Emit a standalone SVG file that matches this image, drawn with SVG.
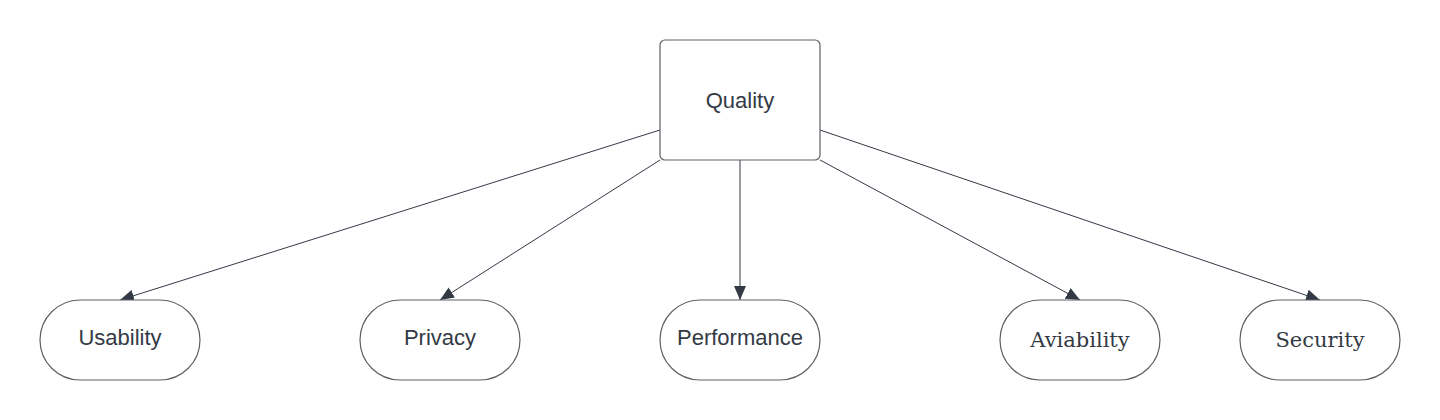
<svg xmlns="http://www.w3.org/2000/svg" width="1440" height="420" viewBox="0 0 1440 420">
<style>
.node{fill:#ffffff;stroke:#5e6066;stroke-width:1.2}
.sans{font-family:"Liberation Sans",Arial,sans-serif;font-size:22px;fill:#333a45}
.serif{font-family:"DejaVu Serif",serif;font-size:21px;fill:#333a45}
.edge{stroke:#333a45;stroke-width:1;fill:none}
</style>
<defs>
<marker id="arr" viewBox="0 0 14 12" refX="14" refY="6" markerWidth="14" markerHeight="12" markerUnits="userSpaceOnUse" orient="auto">
<path d="M0,0 L14,6 L0,12 Z" fill="#333a45"/>
</marker>
</defs>
<rect width="1440" height="420" fill="#ffffff"/>
<g id="connectors">
<line class="edge" x1="660" y1="130" x2="120" y2="300" marker-end="url(#arr)"/>
<line class="edge" x1="660" y1="160" x2="440" y2="300" marker-end="url(#arr)"/>
<line class="edge" x1="740" y1="160" x2="740" y2="300" marker-end="url(#arr)"/>
<line class="edge" x1="820" y1="160" x2="1080" y2="300" marker-end="url(#arr)"/>
<line class="edge" x1="820" y1="130" x2="1320" y2="300" marker-end="url(#arr)"/>
</g>
<g id="quality">
<rect class="node" x="660" y="40" width="160" height="120" rx="5"/>
<text class="sans" x="740" y="108" text-anchor="middle">Quality</text>
</g>
<g id="usability">
<rect class="node" x="40" y="300" width="160" height="80" rx="40"/>
<text class="sans" x="120" y="345" text-anchor="middle">Usability</text>
</g>
<g id="privacy">
<rect class="node" x="360" y="300" width="160" height="80" rx="40"/>
<text class="sans" x="440" y="345" text-anchor="middle">Privacy</text>
</g>
<g id="performance">
<rect class="node" x="660" y="300" width="160" height="80" rx="40"/>
<text class="sans" x="740" y="345" text-anchor="middle">Performance</text>
</g>
<g id="aviability">
<rect class="node" x="1000" y="300" width="160" height="80" rx="40"/>
<text class="serif" x="1080" y="347" text-anchor="middle">Aviability</text>
</g>
<g id="security">
<rect class="node" x="1240" y="300" width="160" height="80" rx="40"/>
<text class="serif" x="1320" y="347" text-anchor="middle">Security</text>
</g>
</svg>
